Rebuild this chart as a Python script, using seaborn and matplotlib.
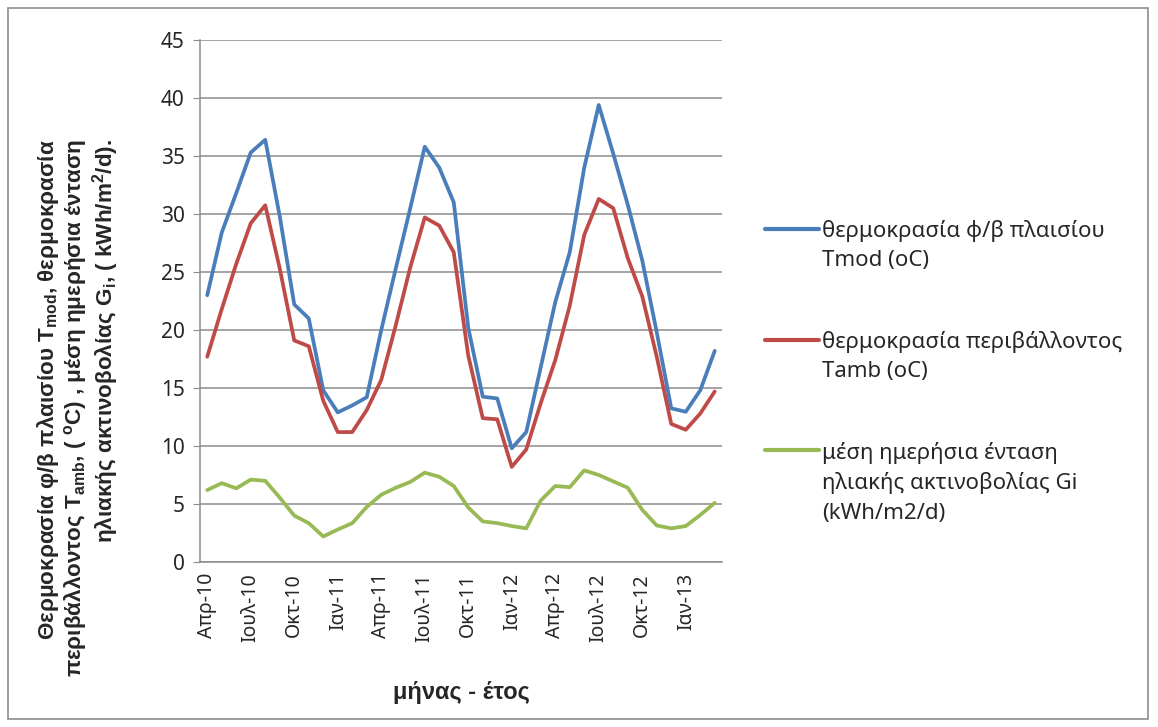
import matplotlib
matplotlib.use("Agg")
import matplotlib.pyplot as plt
import numpy as np
import pandas as pd
import seaborn as sns
from matplotlib.patches import Rectangle

# ----- Data -----

months = ['Απρ-10', 'Μαϊ-10', 'Ιουν-10', 'Ιουλ-10', 'Αυγ-10', 'Σεπ-10', 'Οκτ-10', 'Νοε-10', 'Δεκ-10',
          'Ιαν-11', 'Φεβ-11', 'Μαρ-11', 'Απρ-11', 'Μαϊ-11', 'Ιουν-11', 'Ιουλ-11', 'Αυγ-11', 'Σεπ-11',
          'Οκτ-11', 'Νοε-11', 'Δεκ-11', 'Ιαν-12', 'Φεβ-12', 'Μαρ-12', 'Απρ-12', 'Μαϊ-12', 'Ιουν-12',
          'Ιουλ-12', 'Αυγ-12', 'Σεπ-12', 'Οκτ-12', 'Νοε-12', 'Δεκ-12', 'Ιαν-13', 'Φεβ-13', 'Μαρ-13']

t_mod = [23.0, 28.4, 31.8, 35.3, 36.4, 29.8, 22.2, 21.0, 14.8, 12.9, 13.5, 14.2,
         20.0, 25.3, 30.5, 35.8, 34.0, 31.0, 20.2, 14.25, 14.1, 9.8, 11.2, 16.8,
         22.4, 26.7, 34.0, 39.4, 35.2, 30.8, 26.0, 19.8, 13.25, 12.95, 14.8, 18.2]

t_amb = [17.7, 21.8, 25.7, 29.2, 30.75, 25.3, 19.1, 18.6, 13.9, 11.2, 11.2, 13.1,
         15.7, 20.4, 25.4, 29.7, 29.0, 26.7, 17.8, 12.4, 12.3, 8.2, 9.7, 13.7,
         17.4, 22.1, 28.2, 31.3, 30.5, 26.2, 22.9, 17.7, 11.9, 11.4, 12.8, 14.7]

g_i = [6.2, 6.8, 6.35, 7.1, 7.0, 5.55, 4.0, 3.35, 2.2, 2.8, 3.35, 4.75,
       5.8, 6.4, 6.9, 7.7, 7.35, 6.55, 4.7, 3.5, 3.35, 3.1, 2.9, 5.3,
       6.55, 6.45, 7.9, 7.5, 6.95, 6.4, 4.5, 3.15, 2.9, 3.1, 4.05, 5.1]

series_names = ['θερμοκρασία φ/β πλαισίου\nTmod (oC)',
                'θερμοκρασία περιβάλλοντος\nTamb (oC)',
                'μέση ημερήσια ένταση\nηλιακής ακτινοβολίας Gi\n(kWh/m2/d)']

# ----- Style -----

sns.set_style('white')
plt.rcParams['font.family'] = ['Noto Sans', 'DejaVu Sans']
plt.rcParams['mathtext.default'] = 'regular'

colours = ['#4A7EBB', '#BE4B48', '#98B954']
grey = '#8c8c8c'

long = pd.concat([
    pd.DataFrame({'idx': np.arange(len(months)), 'value': vals, 'series': name})
    for vals, name in zip([t_mod, t_amb, g_i], series_names)
])

fig = plt.figure(figsize=(11.58, 7.27), dpi=100)
ax = fig.add_axes([200 / 1158, 1 - 562 / 727, 522 / 1158, 522 / 727])

fig.patches.append(Rectangle((8 / 1158, 8 / 727), 1140 / 1158, 711 / 727, transform=fig.transFigure,
                             fill=False, edgecolor=grey, linewidth=1.2, zorder=0))

sns.lineplot(data=long, x='idx', y='value', hue='series', palette=colours, linewidth=2.7,
             ax=ax, legend=True)

# -- Axes --

ax.set_xlim(-0.5, len(months) - 0.5)
ax.set_ylim(0, 45)
ax.set_yticks(np.arange(0, 46, 5))
ax.set_xticks(np.arange(0, len(months), 3))
ax.set_xticklabels(months[::3], rotation=90, fontsize=14)
ax.tick_params(axis='y', labelsize=15, length=5, color=grey, left=True, pad=6)
ax.tick_params(axis='x', length=0, pad=8)
ax.grid(axis='y', color=grey, linewidth=1.1)

for side in ['top', 'right']:
    ax.spines[side].set_visible(False)
for side in ['left', 'bottom']:
    ax.spines[side].set_color(grey)
    ax.spines[side].set_linewidth(1.1)

ax.set_xlabel('μήνας - έτος', fontsize=17, fontweight='bold', family=['Liberation Sans', 'DejaVu Sans'],
              labelpad=28)
ax.set_ylabel('Θερμοκρασία φ/β πλαισίου T$_{mod}$, θερμοκρασία\n'
              'περιβάλλοντος T$_{amb}$, ( $^{o}$C) , μέση ημερήσια ένταση\n'
              'ηλιακής ακτινοβολίας G$_{i}$, ( kWh/m$^{2}$/d).',
              fontsize=16.2, fontweight='bold', family=['Liberation Sans', 'DejaVu Sans'],
              linespacing=1.05, multialignment='right')
ax.yaxis.label.set_va('center')
ax.yaxis.set_label_coords((78 - 200) / 522, (562 - 408) / 522)

# -- Legend --

leg_size = 16
leg_spacing = 1.5
leg = ax.legend(loc='upper left', bbox_to_anchor=(765 / 1158, 1 - 220 / 727), bbox_transform=fig.transFigure,
                frameon=False, fontsize=leg_size, handlelength=2.45, handletextpad=0.1,
                labelspacing=2.7, borderpad=0, borderaxespad=0)

# handle sits on the first line of each label
for line, text in zip(leg.get_lines(), leg.get_texts()):
    text.set_linespacing(leg_spacing)
    n_lines = text.get_text().count('\n') + 1
    line.set_linewidth(3)
    line.set_ydata(np.asarray(line.get_ydata()) + (n_lines - 1) / 2 * leg_size * leg_spacing)

fig.savefig('out.png', dpi=100)
